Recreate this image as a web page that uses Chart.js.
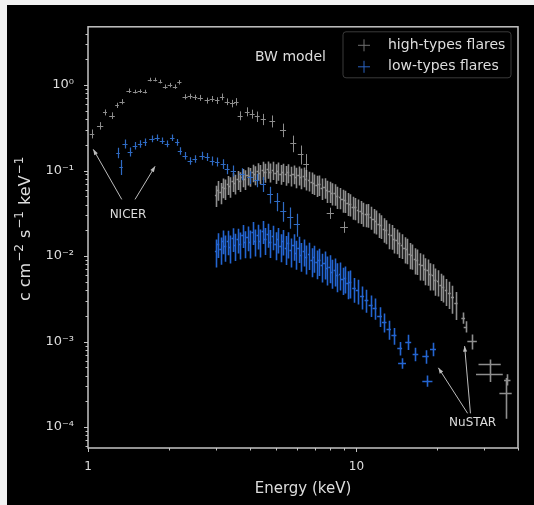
<!DOCTYPE html>
<html>
<head>
<meta charset="utf-8">
<script src="https://cdn.jsdelivr.net/npm/chart.js@4.4.1/dist/chart.umd.min.js"></script>
<style>
  body { margin: 0; background: #f2f2f2; width: 534px; height: 505px; overflow: hidden; }
  #frame { position: absolute; left: 7px; top: 5px; width: 527px; height: 500px; background: #000; }
  canvas { display: block; }
</style>
</head>
<body>
<div id="frame"><canvas id="spectrumChart" width="527" height="500"></canvas></div>
<script>
// Spectrum data: energy (keV), half bin width, flux, relative flux error

// NICER, high-type flares
const nicerHighE = [1.035, 1.11, 1.157, 1.229, 1.283, 1.339, 1.42, 1.50, 1.56, 1.63,
    1.70, 1.78, 1.86, 1.94, 2.02, 2.11, 2.19, 2.30, 2.40, 2.50,
    2.62, 2.78, 2.90, 3.03, 3.16, 3.30, 3.45, 3.57, 3.69, 3.92,
    4.09, 4.27, 4.50, 4.86, 5.33, 5.82, 6.20, 6.50, 8.00, 9.00];
const nicerHighF = [0.27, 0.335, 0.48, 0.44, 0.58, 0.64, 0.86, 0.84, 0.85, 0.84,
    1.16, 1.16, 1.10, 0.96, 1.00, 0.96, 1.08, 0.73, 0.74, 0.72,
    0.71, 0.66, 0.69, 0.66, 0.73, 0.64, 0.61, 0.64, 0.44, 0.49,
    0.46, 0.43, 0.40, 0.38, 0.30, 0.21, 0.157, 0.12, 0.032, 0.022];
const nicerHighDE = [0.02, 0.03, 0.02, 0.03, 0.02, 0.03, 0.03, 0.03, 0.03, 0.03,
    0.03, 0.03, 0.03, 0.04, 0.04, 0.04, 0.04, 0.05, 0.05, 0.05,
    0.06, 0.06, 0.06, 0.06, 0.06, 0.07, 0.07, 0.07, 0.08, 0.08,
    0.09, 0.09, 0.10, 0.12, 0.14, 0.15, 0.15, 0.16, 0.25, 0.30];
const nicerHighRel = [0.12, 0.10, 0.08, 0.09, 0.07, 0.07, 0.06, 0.05, 0.05, 0.05,
    0.05, 0.05, 0.05, 0.06, 0.06, 0.06, 0.06, 0.07, 0.07, 0.07,
    0.08, 0.08, 0.08, 0.09, 0.09, 0.09, 0.10, 0.10, 0.12, 0.12,
    0.12, 0.14, 0.15, 0.16, 0.18, 0.22, 0.25, 0.30, 0.15, 0.15];

// NuSTAR, high-type flares
const nustarHighE = [3.00, 3.06, 3.12, 3.18, 3.25, 3.32, 3.39, 3.46, 3.53, 3.61,
    3.69, 3.77, 3.85, 3.93, 4.02, 4.11, 4.20, 4.29, 4.38, 4.48,
    4.58, 4.68, 4.78, 4.89, 5.00, 5.11, 5.22, 5.34, 5.46, 5.58,
    5.70, 5.83, 5.96, 6.09, 6.23, 6.37, 6.51, 6.66, 6.81, 6.96,
    7.12, 7.28, 7.44, 7.61, 7.78, 7.95, 8.13, 8.31, 8.50, 8.69,
    8.88, 9.08, 9.28, 9.49, 9.70, 9.92, 10.14, 10.37, 10.60, 10.84,
    11.08, 11.33, 11.58, 11.84, 12.11, 12.38, 12.66, 12.94, 13.23, 13.53,
    13.83, 14.14, 14.46, 14.78, 15.11, 15.45, 15.80, 16.15, 16.51, 16.88,
    17.26, 17.65, 18.04, 18.45, 18.86, 19.28, 19.71, 20.15, 20.60, 21.10,
    21.60, 22.20, 22.80, 23.50, 25.00, 25.50, 27.00, 31.50, 31.50, 36.50,
    36.00];
const nustarHighF = [0.052, 0.060, 0.056, 0.064, 0.062, 0.069, 0.066, 0.075, 0.071, 0.079,
    0.076, 0.084, 0.080, 0.088, 0.086, 0.095, 0.090, 0.099, 0.093, 0.102,
    0.096, 0.104, 0.097, 0.102, 0.094, 0.100, 0.092, 0.097, 0.090, 0.095,
    0.088, 0.092, 0.085, 0.089, 0.083, 0.086, 0.080, 0.077, 0.074, 0.071,
    0.068, 0.069, 0.063, 0.064, 0.059, 0.058, 0.055, 0.054, 0.050, 0.049,
    0.046, 0.045, 0.042, 0.041, 0.038, 0.037, 0.035, 0.034, 0.032, 0.031,
    0.031, 0.029, 0.027, 0.026, 0.024, 0.023, 0.021, 0.020, 0.018, 0.0175,
    0.0160, 0.0155, 0.0142, 0.0136, 0.0124, 0.0120, 0.0106, 0.0103, 0.0092, 0.0090,
    0.0080, 0.0078, 0.0070, 0.0068, 0.0061, 0.0060, 0.0053, 0.0051, 0.0046, 0.0044,
    0.0040, 0.0037, 0.0033, 0.0028, 0.0019, 0.0015, 0.00101, 0.00055, 0.00042, 0.00036,
    0.00025];
const nustarHighDE = [0.03, 0.03, 0.03, 0.03, 0.03, 0.03, 0.03, 0.03, 0.03, 0.03,
    0.04, 0.04, 0.04, 0.04, 0.04, 0.04, 0.04, 0.04, 0.04, 0.04,
    0.05, 0.05, 0.05, 0.05, 0.05, 0.05, 0.05, 0.05, 0.05, 0.05,
    0.06, 0.06, 0.06, 0.06, 0.06, 0.06, 0.06, 0.06, 0.06, 0.06,
    0.08, 0.08, 0.08, 0.08, 0.08, 0.08, 0.08, 0.08, 0.08, 0.08,
    0.10, 0.10, 0.10, 0.10, 0.10, 0.10, 0.10, 0.10, 0.10, 0.10,
    0.12, 0.12, 0.12, 0.12, 0.12, 0.12, 0.12, 0.12, 0.12, 0.12,
    0.15, 0.15, 0.15, 0.15, 0.15, 0.15, 0.15, 0.15, 0.15, 0.15,
    0.19, 0.19, 0.19, 0.19, 0.19, 0.19, 0.19, 0.19, 0.19, 0.19,
    0.24, 0.28, 0.30, 0.34, 0.40, 0.40, 1.10, 3.00, 3.60, 1.00,
    1.90];
const nustarHighRel = [0.28, 0.26, 0.28, 0.26, 0.27, 0.25, 0.27, 0.25, 0.26, 0.25,
    0.26, 0.24, 0.26, 0.24, 0.25, 0.23, 0.25, 0.23, 0.25, 0.24,
    0.25, 0.23, 0.25, 0.24, 0.26, 0.24, 0.26, 0.24, 0.26, 0.25,
    0.26, 0.25, 0.27, 0.25, 0.27, 0.26, 0.27, 0.26, 0.28, 0.27,
    0.28, 0.27, 0.28, 0.27, 0.29, 0.28, 0.29, 0.28, 0.29, 0.28,
    0.30, 0.29, 0.30, 0.29, 0.30, 0.29, 0.31, 0.30, 0.31, 0.30,
    0.31, 0.30, 0.32, 0.31, 0.32, 0.31, 0.32, 0.31, 0.33, 0.32,
    0.33, 0.32, 0.33, 0.32, 0.34, 0.33, 0.34, 0.33, 0.34, 0.33,
    0.35, 0.34, 0.35, 0.34, 0.35, 0.34, 0.35, 0.34, 0.35, 0.35,
    0.35, 0.35, 0.36, 0.36, 0.15, 0.15, 0.20, 0.12, 0.20, 0.15,
    0.50];

// NICER, low-type flares
const nicerLowE = [1.294, 1.328, 1.374, 1.435, 1.497, 1.563, 1.63, 1.73, 1.81, 1.89,
    1.97, 2.06, 2.15, 2.20, 2.30, 2.40, 2.50, 2.66, 2.78, 2.90,
    3.03, 3.19, 3.30, 3.48, 3.75, 4.02, 4.25, 4.49, 4.77, 5.07,
    5.34, 5.67, 6.00];
const nicerLowF = [0.162, 0.111, 0.206, 0.166, 0.196, 0.206, 0.215, 0.236, 0.243, 0.224,
    0.206, 0.243, 0.215, 0.170, 0.150, 0.130, 0.137, 0.150, 0.145, 0.130,
    0.127, 0.120, 0.105, 0.100, 0.092, 0.084, 0.078, 0.070, 0.053, 0.044,
    0.034, 0.029, 0.024];
const nicerLowDE = [0.02, 0.02, 0.03, 0.03, 0.03, 0.03, 0.03, 0.04, 0.04, 0.04,
    0.04, 0.04, 0.04, 0.04, 0.05, 0.05, 0.05, 0.06, 0.06, 0.06,
    0.06, 0.07, 0.07, 0.08, 0.09, 0.10, 0.10, 0.11, 0.12, 0.13,
    0.14, 0.15, 0.16];
const nicerLowRel = [0.14, 0.20, 0.12, 0.12, 0.10, 0.10, 0.10, 0.09, 0.09, 0.09,
    0.09, 0.09, 0.09, 0.10, 0.10, 0.10, 0.10, 0.11, 0.11, 0.12,
    0.12, 0.13, 0.14, 0.15, 0.16, 0.17, 0.18, 0.20, 0.22, 0.24,
    0.26, 0.28, 0.30];

// NuSTAR, low-type flares
const nustarLowE = [3.00, 3.06, 3.12, 3.18, 3.25, 3.32, 3.39, 3.46, 3.53, 3.61,
    3.69, 3.77, 3.85, 3.93, 4.02, 4.11, 4.20, 4.29, 4.38, 4.48,
    4.58, 4.68, 4.78, 4.89, 5.00, 5.11, 5.22, 5.34, 5.46, 5.58,
    5.70, 5.83, 5.96, 6.09, 6.23, 6.37, 6.51, 6.66, 6.81, 6.96,
    7.12, 7.28, 7.44, 7.61, 7.78, 7.95, 8.13, 8.31, 8.50, 8.69,
    8.88, 9.08, 9.28, 9.49, 9.80, 10.10, 10.50, 10.90, 11.30, 11.70,
    12.20, 12.70, 13.20, 13.80, 14.50, 14.80, 15.60, 16.60, 18.10, 18.40,
    19.30];
const nustarLowF = [0.0115, 0.0140, 0.0122, 0.0152, 0.0130, 0.0150, 0.0128, 0.0162, 0.0135, 0.0158,
    0.0140, 0.0178, 0.0145, 0.0168, 0.0146, 0.0192, 0.0152, 0.0176, 0.0150, 0.0198,
    0.0158, 0.0182, 0.0148, 0.0172, 0.0140, 0.0160, 0.0132, 0.0152, 0.0125, 0.0142,
    0.0117, 0.0134, 0.0110, 0.0126, 0.0104, 0.0116, 0.0097, 0.0106, 0.0090, 0.0098,
    0.0085, 0.0090, 0.0078, 0.0083, 0.0072, 0.0075, 0.0066, 0.0069, 0.0060, 0.0062,
    0.0054, 0.0056, 0.0049, 0.0050, 0.0042, 0.0040, 0.0034, 0.0031, 0.0027, 0.0025,
    0.0020, 0.0017, 0.0014, 0.00118, 0.00084, 0.00056, 0.0010, 0.00072, 0.00067, 0.00035,
    0.00082];
const nustarLowDE = [0.03, 0.03, 0.03, 0.03, 0.03, 0.03, 0.03, 0.03, 0.03, 0.03,
    0.04, 0.04, 0.04, 0.04, 0.04, 0.04, 0.04, 0.04, 0.04, 0.04,
    0.05, 0.05, 0.05, 0.05, 0.05, 0.05, 0.05, 0.05, 0.05, 0.05,
    0.06, 0.06, 0.06, 0.06, 0.06, 0.06, 0.06, 0.06, 0.06, 0.06,
    0.08, 0.08, 0.08, 0.08, 0.08, 0.08, 0.08, 0.08, 0.08, 0.08,
    0.10, 0.10, 0.10, 0.10, 0.15, 0.15, 0.18, 0.18, 0.20, 0.20,
    0.25, 0.25, 0.25, 0.30, 0.30, 0.50, 0.40, 0.40, 0.50, 0.80,
    0.50];
const nustarLowRel = [0.36, 0.32, 0.35, 0.31, 0.34, 0.32, 0.36, 0.31, 0.35, 0.32,
    0.35, 0.30, 0.35, 0.32, 0.36, 0.30, 0.35, 0.32, 0.36, 0.30,
    0.35, 0.31, 0.36, 0.32, 0.36, 0.33, 0.36, 0.33, 0.37, 0.34,
    0.37, 0.34, 0.37, 0.34, 0.37, 0.35, 0.37, 0.35, 0.37, 0.35,
    0.37, 0.35, 0.37, 0.36, 0.37, 0.36, 0.37, 0.36, 0.37, 0.36,
    0.35, 0.35, 0.36, 0.36, 0.32, 0.32, 0.30, 0.30, 0.28, 0.28,
    0.26, 0.25, 0.25, 0.22, 0.18, 0.14, 0.20, 0.18, 0.18, 0.15,
    0.18];

// Axis ticks
const xTickValues = [1, 10];
const xTickLabels = ['1', '10'];
const yTickValues = [1e-4, 1e-3, 1e-2, 1e-1, 1];
const yTickLabels = ['10\u207B\u2074', '10\u207B\u00B3', '10\u207B\u00B2', '10\u207B\u00B9', '10\u2070'];

// Y title pieces: [text, superscript?]
const yTitleParts = [['c cm', false], ['\u22122', true], [' s', false], ['\u22121', true], [' keV', false], ['\u22121', true]];

// Legend entries and annotation anchors (data coordinates)
const legendLabels = ['high-types flares', 'low-types flares'];
const nicerLabel = { text: 'NICER', x: 1.41, y: 0.0306 };
const nicerArrows = [[1.336, 0.046, 1.046, 0.177], [1.497, 0.046, 1.778, 0.112]];
const nustarLabel = { text: 'NuSTAR', x: 27.1, y: 1.11e-4 };
const nustarArrows = [[25.96, 1.45e-4, 20.2, 4.94e-4], [26.6, 1.45e-4, 25.3, 8.87e-4]];

// Build points with their error sizes
function buildPoints(E, F, DE, Rel) {
    return E.map((e, i) => ({ x: e, y: F[i], xErr: DE[i], yRel: Rel[i] }));
}

const colors = {
    nicerHigh: '#8e8e8e',
    nustarHigh: 'rgba(178, 178, 178, 0.8)',
    nicerLow: '#2f6bc4',
    nustarLow: 'rgba(40, 112, 232, 0.9)',
    legendHigh: '#707070',
    legendLow: '#2a62c0',
    text: '#dddddd',
    axis: '#c4c4c4'
};

// Draws the horizontal and vertical error bars of every point
const errorBars = {
    id: 'errorBars',
    afterDatasetsDraw(chart) {
        const { ctx, chartArea: a, scales: { x, y } } = chart;
        ctx.save();
        ctx.beginPath();
        ctx.rect(a.left, a.top, a.width, a.height);
        ctx.clip();
        ctx.filter = 'blur(0.4px)';
        chart.data.datasets.forEach(ds => {
            ctx.strokeStyle = ds.borderColor;
            ctx.lineWidth = ds.errWidth;
            ctx.beginPath();
            ds.data.forEach(p => {
                const px = Math.round(x.getPixelForValue(p.x)) + 0.5;
                const py = Math.round(y.getPixelForValue(p.y)) + 0.5;
                ctx.moveTo(x.getPixelForValue(p.x - p.xErr), py);
                ctx.lineTo(x.getPixelForValue(p.x + p.xErr), py);
                ctx.moveTo(px, y.getPixelForValue(p.y * (1 - p.yRel)));
                ctx.lineTo(px, y.getPixelForValue(p.y * (1 + p.yRel)));
            });
            ctx.stroke();
        });
        ctx.restore();
    }
};

function logTicks(min, max) {
    const out = [];
    for (let e = Math.floor(Math.log10(min)); e <= Math.ceil(Math.log10(max)); e++) {
        for (let m = 1; m < 10; m++) {
            const v = m * Math.pow(10, e);
            if (v >= min * 0.999 && v <= max * 1.001) out.push({ v, major: m === 1 });
        }
    }
    return out;
}

function drawArrow(ctx, x0, y0, x1, y1) {
    ctx.beginPath();
    ctx.moveTo(x0, y0);
    ctx.lineTo(x1, y1);
    ctx.stroke();
    const ang = Math.atan2(y1 - y0, x1 - x0), h = 6;
    ctx.beginPath();
    ctx.moveTo(x1, y1);
    ctx.lineTo(x1 - h * Math.cos(ang - 0.35), y1 - h * Math.sin(ang - 0.35));
    ctx.lineTo(x1 - h * Math.cos(ang + 0.35), y1 - h * Math.sin(ang + 0.35));
    ctx.closePath();
    ctx.fill();
}

// Frame, tick marks, axis title, legend and annotations
const decorations = {
    id: 'decorations',
    afterDraw(chart) {
        const { ctx, chartArea: a, scales: { x, y } } = chart;
        ctx.save();

        // frame
        ctx.strokeStyle = colors.axis;
        ctx.lineWidth = 1.5;
        ctx.strokeRect(a.left, a.top, a.width, a.height);

        // tick marks (outward)
        ctx.lineWidth = 1;
        ctx.beginPath();
        logTicks(x.min, x.max).forEach(t => {
            const px = Math.round(x.getPixelForValue(t.v)) + 0.5;
            ctx.moveTo(px, a.bottom);
            ctx.lineTo(px, a.bottom + (t.major ? 4 : 2.5));
        });
        logTicks(y.min, y.max).forEach(t => {
            const py = Math.round(y.getPixelForValue(t.v)) + 0.5;
            ctx.moveTo(a.left, py);
            ctx.lineTo(a.left - (t.major ? 4 : 2.5), py);
        });
        ctx.stroke();

        // y axis title with raised exponents
        ctx.fillStyle = colors.text;
        ctx.textBaseline = 'alphabetic';
        ctx.textAlign = 'left';
        const bigFont = '16px "DejaVu Sans"', supFont = '12px "DejaVu Sans"';
        let total = 0;
        yTitleParts.forEach(([t, sup]) => { ctx.font = sup ? supFont : bigFont; total += ctx.measureText(t).width + (sup ? 2 : 0); });
        ctx.translate(23, (a.top + a.bottom) / 2 - 9);
        ctx.rotate(-Math.PI / 2);
        let cx = -total / 2;
        yTitleParts.forEach(([t, sup]) => {
            ctx.font = sup ? supFont : bigFont;
            ctx.fillText(t, cx + (sup ? 1 : 0), sup ? -7 : 0);
            cx += ctx.measureText(t).width + (sup ? 2 : 0);
        });
        ctx.setTransform(1, 0, 0, 1, 0, 0);

        // legend
        const lx = a.right - 175, ly = a.top + 5;
        ctx.fillStyle = 'rgba(0,0,0,0.8)';
        ctx.strokeStyle = '#3a3a3a';
        ctx.beginPath();
        ctx.roundRect(lx, ly, 168, 46, 3);
        ctx.fill();
        ctx.stroke();
        ctx.font = '14px "DejaVu Sans"';
        ctx.textBaseline = 'middle';
        ctx.textAlign = 'left';
        [colors.legendHigh, colors.legendLow].forEach((c, i) => {
            const ry = ly + 13.5 + i * 21.5;
            ctx.strokeStyle = c;
            ctx.beginPath();
            ctx.moveTo(lx + 15, ry); ctx.lineTo(lx + 27, ry);
            ctx.moveTo(lx + 21, ry - 6); ctx.lineTo(lx + 21, ry + 6);
            ctx.stroke();
            ctx.fillStyle = colors.text;
            ctx.fillText(legendLabels[i], lx + 45, ry);
        });
        ctx.fillText('BW model', lx - 88, ly + 26);

        // annotations
        ctx.strokeStyle = '#bdbdbd';
        ctx.fillStyle = '#bdbdbd';
        ctx.lineWidth = 1;
        [...nicerArrows, ...nustarArrows].forEach(ar => {
            drawArrow(ctx, x.getPixelForValue(ar[0]), y.getPixelForValue(ar[1]),
                x.getPixelForValue(ar[2]), y.getPixelForValue(ar[3]));
        });
        ctx.fillStyle = colors.text;
        ctx.font = '12px "DejaVu Sans"';
        ctx.textAlign = 'center';
        [nicerLabel, nustarLabel].forEach(l => {
            ctx.fillText(l.text, x.getPixelForValue(l.x), y.getPixelForValue(l.y));
        });
        ctx.restore();
    }
};

Chart.defaults.font.family = '"DejaVu Sans", sans-serif';

new Chart(document.getElementById('spectrumChart'), {
    type: 'scatter',
    data: {
        datasets: [
            { label: 'NICER high', data: buildPoints(nicerHighE, nicerHighF, nicerHighDE, nicerHighRel), borderColor: colors.nicerHigh, errWidth: 1 },
            { label: 'NuSTAR high', data: buildPoints(nustarHighE, nustarHighF, nustarHighDE, nustarHighRel), borderColor: colors.nustarHigh, errWidth: 1.6 },
            { label: 'NICER low', data: buildPoints(nicerLowE, nicerLowF, nicerLowDE, nicerLowRel), borderColor: colors.nicerLow, errWidth: 1.2 },
            { label: 'NuSTAR low', data: buildPoints(nustarLowE, nustarLowF, nustarLowDE, nustarLowRel), borderColor: colors.nustarLow, errWidth: 1.6 }
        ]
    },
    options: {
        responsive: false,
        devicePixelRatio: 1,
        animation: false,
        events: [],
        elements: { point: { radius: 0, hoverRadius: 0 } },
        layout: { padding: { left: 0, top: 17, right: 16, bottom: 0 } },
        plugins: { legend: { display: false }, tooltip: { enabled: false } },
        scales: {
            x: {
                type: 'logarithmic',
                position: 'bottom',
                min: 1,
                max: 40,
                afterBuildTicks: scale => { scale.ticks = xTickValues.map(v => ({ value: v })); },
                afterFit: scale => { scale.height = 57; },
                grid: { display: false, drawTicks: false },
                border: { display: false },
                ticks: {
                    color: colors.text,
                    font: { size: 12 },
                    padding: 12,
                    maxRotation: 0,
                    autoSkip: false,
                    callback: (v, i) => xTickLabels[i]
                },
                title: {
                    display: true,
                    text: 'Energy (keV)',
                    color: colors.text,
                    font: { size: 15 },
                    padding: { top: 0, bottom: 7 }
                }
            },
            y: {
                type: 'logarithmic',
                position: 'left',
                min: 5.7e-5,
                max: 4.8,
                afterBuildTicks: scale => { scale.ticks = yTickValues.map(v => ({ value: v })); },
                afterFit: scale => { scale.width = 81; },
                grid: { display: false, drawTicks: false },
                border: { display: false },
                ticks: {
                    color: colors.text,
                    font: { size: 13 },
                    padding: 14,
                    autoSkip: false,
                    callback: (v, i) => yTickLabels[i]
                }
            }
        }
    },
    plugins: [errorBars, decorations]
});
</script>
</body>
</html>
